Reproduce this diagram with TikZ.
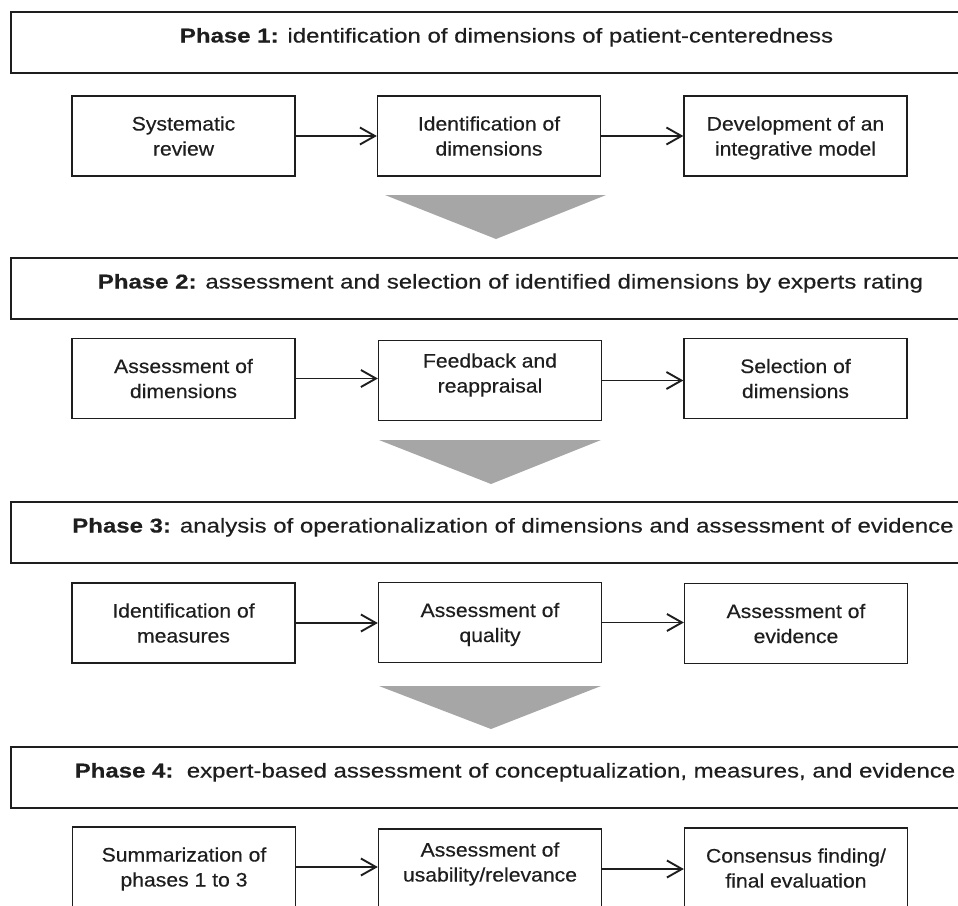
\documentclass[tikz,border=0pt]{standalone}
\usepackage{fontspec}
\setmainfont{Liberation Sans}
\newfontfamily\phasefont{Liberation Sans}[FakeStretch=1.2,FakeBold=0.4]
\newfontfamily\boxfont{Liberation Sans}[FakeStretch=1.085,FakeBold=0.4]
\usetikzlibrary{arrows.meta}
\definecolor{ink}{RGB}{30,30,30}
\definecolor{tri}{RGB}{166,166,166}
\newcommand{\bxt}[2][-2pt]{\raisebox{#1}[\height][\depth]{\begin{tabular}{@{}c@{}}#2\end{tabular}}}
\begin{document}
\begin{tikzpicture}[x=1pt,y=-1pt,
  phasebox/.style={draw=ink, line width=1.3pt, minimum height=61pt, inner sep=0pt, text=ink,
    font=\phasefont\fontsize{20}{24}\selectfont, text height=8pt, text depth=8pt},
  stepbox/.style={draw=ink, line width=1.3pt, minimum width=223pt, minimum height=80pt, inner sep=0pt, text=ink,
    font=\boxfont\fontsize{19.5}{25}\selectfont},
  flow/.style={draw=ink, line width=1.9pt, -{Straight Barb[length=15pt,width=17pt]}},
  chev/.style={fill=tri, draw=none}
]
\useasboundingbox (0,0) rectangle (958,905);

% phase boxes
\node[phasebox, minimum width=991pt] (p1) at (506.5,42.5) {\textbf{Phase 1:} identification of dimensions of patient-centeredness};
\node[phasebox, minimum width=999pt] (p2) at (510.5,288.5) {\textbf{Phase 2:} assessment and selection of identified dimensions by experts rating};
\node[phasebox, minimum width=1004pt] (p3) at (513,532.5) {\textbf{Phase 3:} analysis of operationalization of dimensions and assessment of evidence};
\node[phasebox, minimum width=1008pt] (p4) at (515,777.5) {\textbf{Phase 4:}\ \ expert-based assessment of conceptualization, measures, and evidence};

% row 1
\node[stepbox] (a1) at (183.5,136) {\bxt{Systematic\\review}};
\node[stepbox] (b1) at (489,136) {\bxt{Identification of\\dimensions}};
\node[stepbox] (c1) at (795.5,136) {\bxt{Development of an\\integrative model}};
% row 2
\node[stepbox] (a2) at (183.5,378.5) {\bxt{Assessment of\\dimensions}};
\node[stepbox] (b2) at (490,380.5) {\bxt[5.5pt]{Feedback and\\reappraisal}};
\node[stepbox] (c2) at (795.5,378.5) {\bxt{Selection of\\dimensions}};
% row 3
\node[stepbox] (a3) at (183.5,623) {\bxt{Identification of\\measures}};
\node[stepbox] (b3) at (490,622.5) {\bxt{Assessment of\\quality}};
\node[stepbox] (c3) at (796,623.5) {\bxt{Assessment of\\evidence}};
% row 4
\node[stepbox] (a4) at (184,867) {\bxt{Summarization of\\phases 1 to 3}};
\node[stepbox] (b4) at (490,869) {\bxt[5pt]{Assessment of\\usability/relevance}};
\node[stepbox] (c4) at (796,868) {\bxt{Consensus finding/\\final evaluation}};

% arrows
\draw[flow] (a1.east) -- (a1.east -| b1.west);
\draw[flow] (b1.east) -- (b1.east -| c1.west);
\draw[flow] (a2.east) -- (a2.east -| b2.west);
\draw[flow] (b2.east) -- (b2.east -| c2.west);
\draw[flow] (a3.east) -- (a3.east -| b3.west);
\draw[flow] (b3.east) -- (b3.east -| c3.west);
\draw[flow] (a4.east) -- (a4.east -| b4.west);
\draw[flow] (b4.east) -- (b4.east -| c4.west);

% big grey arrowheads between phases
\fill[chev] (385,195) -- (606,195) -- (496,239) -- cycle;
\fill[chev] (379,440) -- (601,440) -- (491,484) -- cycle;
\fill[chev] (379,686) -- (601,686) -- (491,729) -- cycle;
\end{tikzpicture}
\end{document}
